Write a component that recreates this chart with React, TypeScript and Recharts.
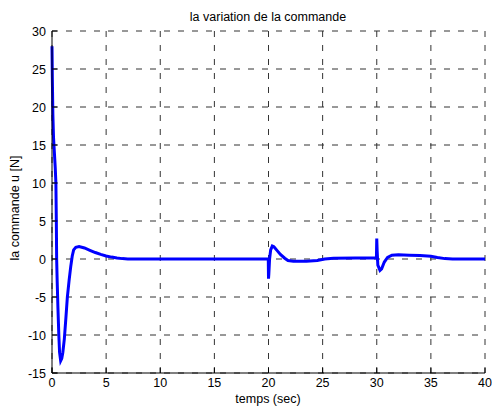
import { CartesianGrid, Line, LineChart, XAxis, YAxis } from "recharts";

const timeSec = [
  0, 0.03, 0.08, 0.14, 0.2, 0.3, 0.36, 0.4, 0.43, 0.48, 0.55, 0.63, 0.7, 0.8,
  0.9, 1.0, 1.14, 1.28, 1.42, 1.58, 1.73, 1.87, 2.0, 2.2, 2.5, 3.0, 3.5, 4.0,
  4.5, 5.0, 5.5, 6.0, 6.5, 7.0, 12, 19.98, 20.0, 20.03, 20.1, 20.2, 20.35,
  20.5, 20.8, 21.1, 21.5, 21.8, 22.3, 23.5, 24.5, 25.2, 26, 29.97, 30.0, 30.04,
  30.1, 30.3, 30.45, 30.7, 31.0, 31.4, 32, 33, 34, 35, 35.6, 36.3, 37, 40,
];
const commandU = [
  28, 24, 19, 16, 14.5, 12, 10, 5, 0, -3, -6.5, -10, -12.3, -13.4, -13.1,
  -12.3, -10.5, -7.8, -5, -2.8, -1, 0.4, 1.2, 1.55, 1.65, 1.45, 1.15, 0.85,
  0.6, 0.4, 0.25, 0.12, 0.05, 0, 0, 0, -2.6, -2.0, 0, 1.2, 1.7, 1.6, 1.1, 0.6,
  0.1, -0.2, -0.3, -0.3, -0.2, 0, 0.1, 0.15, 2.7, 1.0, -0.8, -1.5, -1.3, -0.4,
  0.2, 0.5, 0.55, 0.5, 0.45, 0.35, 0.2, 0.05, 0, 0,
];
const xTicks = [0, 5, 10, 15, 20, 25, 30, 35, 40];
const yTicks = [-15, -10, -5, 0, 5, 10, 15, 20, 25, 30];

const data = timeSec.map((t, i) => ({ t, u: commandU[i] }));

const font = "'Liberation Sans', Arial, sans-serif";

function BottomTick(props: any) {
  const { x, y, payload } = props;
  return (
    <g>
      <line x1={x} y1={y} x2={x} y2={y - 5} stroke="#000" />
      <text x={x} y={y + 14} textAnchor="middle" fontSize={12.5} fontFamily={font} fill="#000">
        {payload.value}
      </text>
    </g>
  );
}

function LeftTick(props: any) {
  const { x, y, payload } = props;
  return (
    <g>
      <line x1={x} y1={y} x2={x + 5} y2={y} stroke="#000" />
      <text x={x - 6} y={y + 4.5} textAnchor="end" fontSize={12.5} fontFamily={font} fill="#000">
        {payload.value}
      </text>
    </g>
  );
}

function TopTick(props: any) {
  const { x, y } = props;
  return <line x1={x} y1={y} x2={x} y2={y + 5} stroke="#000" />;
}

function RightTick(props: any) {
  const { x, y } = props;
  return <line x1={x} y1={y} x2={x - 5} y2={y} stroke="#000" />;
}

export default function App() {
  return (
    <div style={{ position: "absolute", left: 0, top: 0, width: 492, height: 410, background: "#fff" }}>
      <LineChart width={492} height={410} data={data} margin={{ top: 31, right: 7, bottom: 0, left: 0 }}>
        <CartesianGrid stroke="#333" strokeDasharray="6 8" />
        <XAxis
          dataKey="t"
          type="number"
          domain={[0, 40]}
          ticks={xTicks}
          height={37}
          tickSize={0}
          tickMargin={0}
          tickLine={false}
          axisLine={{ stroke: "#000" }}
          tick={BottomTick}
          interval={0}
        />
        <XAxis
          xAxisId="top"
          orientation="top"
          type="number"
          domain={[0, 40]}
          ticks={xTicks}
          height={0}
          tickSize={0}
          tickMargin={0}
          tickLine={false}
          axisLine={{ stroke: "#000" }}
          tick={TopTick}
          interval={0}
        />
        <YAxis
          type="number"
          domain={[-15, 30]}
          ticks={yTicks}
          width={52}
          tickSize={0}
          tickMargin={0}
          tickLine={false}
          axisLine={{ stroke: "#000" }}
          tick={LeftTick}
          interval={0}
          allowDataOverflow
        />
        <YAxis
          yAxisId="right"
          orientation="right"
          type="number"
          domain={[-15, 30]}
          ticks={yTicks}
          width={0}
          tickSize={0}
          tickMargin={0}
          tickLine={false}
          axisLine={{ stroke: "#000" }}
          tick={RightTick}
          interval={0}
        />
        <Line
          dataKey="u"
          type="linear"
          stroke="#0000ff"
          strokeWidth={3}
          dot={false}
          isAnimationActive={false}
        />
      </LineChart>
      <svg
        width={492}
        height={410}
        style={{ position: "absolute", left: 0, top: 0, pointerEvents: "none" }}
      >
        <text x={268} y={20.5} textAnchor="middle" fontSize={12.5} fontFamily={font} fill="#000">
          la variation de la commande
        </text>
        <text x={268} y={403} textAnchor="middle" fontSize={12.5} fontFamily={font} fill="#000">
          temps (sec)
        </text>
        <text
          x={0}
          y={0}
          transform="translate(18.5 208) rotate(-90)"
          textAnchor="middle"
          fontSize={12.5}
          fontFamily={font}
          fill="#000"
        >
          la commande u [N]
        </text>
      </svg>
    </div>
  );
}
